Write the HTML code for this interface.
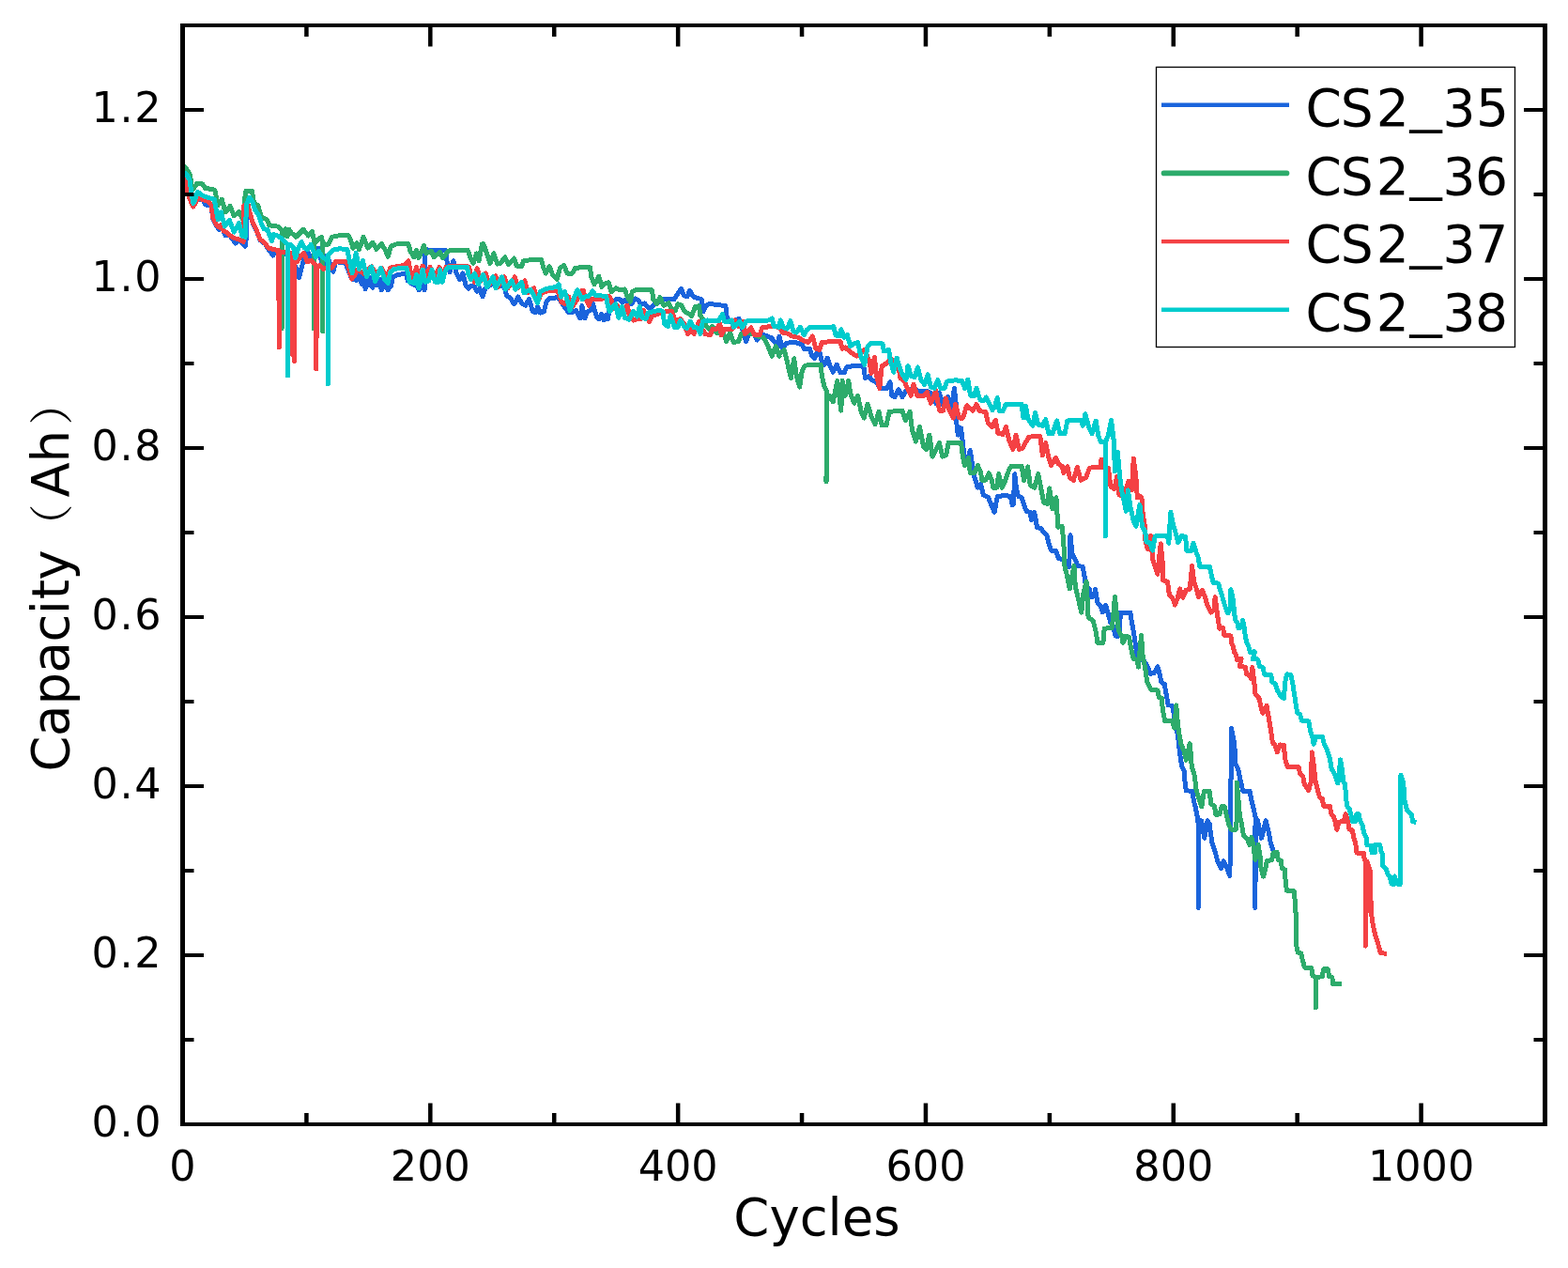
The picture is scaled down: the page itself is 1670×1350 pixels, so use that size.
<!DOCTYPE html>
<html lang="en"><head><meta charset="utf-8"><title>Capacity vs Cycles</title>
<style>
html,body{margin:0;padding:0;background:#fff;}
body{width:1670px;height:1350px;overflow:hidden;}
svg{display:block;}
text{font-family:"DejaVu Sans","Liberation Sans","Noto Serif CJK SC","Noto Sans CJK SC",sans-serif;fill:#000;}
.tk{font-size:44.5px;}
.tky{font-size:44.5px;letter-spacing:1.7px;}
.ttl{font-size:54.5px;}
.lg{font-size:55px;}
.par{font-size:47px;}
</style></head><body>
<svg width="1670" height="1350" viewBox="0 0 1670 1350">
<rect x="0" y="0" width="1670" height="1350" fill="#ffffff"/>
<g id="curves" shape-rendering="crispEdges">
<polyline points="194.6,188.3 196.9,189.0 199.2,202.2 202.5,212.7 205.8,220.0 208.5,215.4 210.4,211.4 216.4,213.4 219.0,218.0 224.9,218.7 226.9,233.2 230.9,241.1 233.5,244.4 235.5,239.8 240.1,251.0 242.7,249.6 245.4,251.6 250.6,258.9 254.6,255.6 261.2,262.2 262.0,257.5 262.5,220.0 264.1,217.3 265.8,226.6 269.1,237.1 273.0,245.0 277.0,255.6 282.3,259.5 285.6,264.8 290.8,272.0 294.1,266.8 302.0,269.4 308.6,273.4 315.2,285.2 318.5,295.8 321.8,282.6 327.1,265.5 331.0,276.0 339.0,264.1 344.2,286.5 348.2,272.0 354.8,289.2 357.4,278.6 368.0,280.0 374.6,297.1 379.8,298.4 383.8,291.8 385.1,302.4 387.1,293.1 389.1,307.6 391.0,295.8 393.0,303.7 395.0,295.8 397.0,306.3 398.9,297.1 400.9,303.7 403.6,297.1 406.2,309.0 408.2,298.4 410.0,305.0 413.2,308.8 416.5,304.1 418.5,294.9 422.4,292.9 432.3,291.0 434.3,298.9 439.5,302.8 443.5,304.1 446.1,308.8 450.1,300.2 452.1,308.8 452.7,265.9 475.1,266.6 476.5,284.4 479.1,289.6 483.0,277.8 485.7,289.6 489.6,297.5 492.9,291.0 496.2,304.1 498.9,307.4 501.5,304.1 505.5,305.5 508.1,310.1 510.7,306.8 514.0,316.0 516.7,306.8 525.2,302.2 537.1,305.5 539.7,314.7 543.7,317.3 547.6,323.9 551.6,316.0 555.5,322.6 559.5,325.2 563.5,318.6 567.4,331.8 570.7,332.5 572.7,326.5 575.3,333.1 579.3,331.8 581.9,321.3 584.6,318.0 593.8,316.7 597.7,321.3 601.9,328.0 605.3,332.2 610.3,332.2 613.6,330.5 617.8,338.9 619.9,325.5 622.9,338.9 625.4,332.2 628.7,330.5 631.7,323.8 633.8,332.2 635.4,337.2 638.0,339.7 640.5,334.7 643.0,340.6 645.5,335.6 647.2,339.7 648.9,332.2 655.6,318.8 660.6,318.8 662.7,322.1 665.6,319.6 669.0,323.0 672.3,323.8 676.5,318.0 679.9,319.6 682.4,323.8 686.6,323.0 690.8,328.0 694.1,327.2 697.5,323.8 702.3,321.2 707.5,318.5 718.1,318.5 720.7,314.6 725.3,307.3 728.6,314.6 731.9,315.9 734.6,309.3 738.5,315.9 741.8,317.2 747.1,318.5 749.1,331.7 752.4,325.1 755.0,323.8 762.9,324.1 772.8,325.8 774.1,337.0 777.4,342.3 787.3,339.6 790.6,350.2 794.6,363.4 799.8,350.2 806.4,362.0 810.4,355.5 820.9,359.4 830.0,368.6 829.9,358.0 833.2,371.2 837.1,365.9 842.4,364.3 847.7,364.6 854.3,367.2 856.9,371.8 862.2,371.2 864.8,379.1 867.5,381.7 870.1,375.8 873.4,376.5 875.4,385.7 878.0,388.3 881.3,381.1 884.6,391.0 887.2,396.2 891.2,388.3 895.1,396.9 899.1,396.9 901.7,391.0 907.0,389.9 917.5,389.9 920.2,392.3 921.5,402.8 925.5,400.2 928.1,404.1 933.4,406.8 937.3,413.4 943.9,414.0 947.9,406.8 949.8,421.3 953.1,422.6 957.1,414.7 961.0,422.6 965.0,416.0 969.0,414.7 978.2,416.0 986.1,416.0 991.4,418.6 996.6,429.2 1000.6,418.6 1004.6,431.8 1009.8,422.6 1013.8,433.1 1016.4,413.4 1018.4,431.8 1018.2,444.0 1020.2,463.1 1023.5,455.8 1024.8,466.4 1026.8,483.5 1030.1,492.7 1033.3,479.5 1035.3,492.7 1037.3,505.9 1041.3,519.1 1044.6,515.1 1047.2,527.0 1052.5,529.6 1055.1,536.2 1059.1,545.5 1062.3,528.3 1070.9,527.7 1076.2,528.3 1078.2,537.5 1079.4,536.3 1080.8,504.7 1082.7,521.8 1084.7,528.4 1088.0,529.7 1090.6,537.6 1093.3,544.2 1097.2,545.5 1098.5,553.5 1101.8,545.5 1104.5,561.4 1108.4,562.7 1114.9,570.3 1116.9,578.2 1119.5,586.1 1124.8,586.8 1127.5,594.7 1132.1,595.4 1135.4,603.3 1138.7,603.3 1140.0,569.7 1142.0,590.1 1145.9,596.7 1147.2,602.6 1153.2,603.3 1155.1,613.8 1156.5,624.4 1160.4,627.0 1161.7,635.6 1165.0,634.9 1166.6,627.7 1169.0,641.5 1172.3,645.5 1174.3,652.0 1177.5,644.1 1180.2,653.4 1182.8,662.6 1185.5,666.5 1188.1,677.1 1192.0,677.1 1193.4,652.0 1203.9,652.0 1205.2,661.3 1207.2,671.8 1209.2,685.0 1211.2,698.2 1213.1,702.1 1218.4,703.5 1222.4,710.1 1225.0,717.3 1229.0,716.6 1232.9,710.1 1233.0,709.9 1235.6,719.8 1236.9,726.4 1240.2,728.3 1242.2,739.5 1244.2,750.8 1248.8,751.4 1250.1,759.3 1252.7,773.8 1254.7,784.4 1256.7,802.8 1258.7,816.0 1261.3,821.3 1262.0,831.8 1263.3,841.7 1269.9,842.4 1271.2,851.6 1273.2,859.5 1275.1,868.7 1276.0,876.0 1276.3,966.5 1276.8,873.0 1279.5,873.8 1282.8,892.3 1286.1,873.8 1288.1,877.1 1290.8,896.9 1294.0,906.1 1296.7,916.7 1300.6,924.6 1303.3,916.7 1305.9,922.0 1309.9,932.5 1311.6,775.5 1314.7,792.3 1316.0,813.4 1318.6,818.6 1321.3,831.8 1323.9,842.4 1331.2,842.4 1332.5,850.3 1334.5,858.2 1337.1,870.1 1338.4,876.0 1336.7,880.0 1336.9,966.5 1337.3,876.0 1339.5,873.8 1343.5,892.3 1348.1,873.8 1351.4,886.4 1353.4,898.2 1356.0,905.5" fill="none" stroke="#1a64dc" stroke-width="5.0" stroke-linejoin="round" stroke-linecap="butt"/>
<polyline points="194.6,176.5 196.9,177.8 199.9,181.8 202.5,186.4 204.2,198.2 205.6,201.9 207.8,198.2 209.8,195.3 215.7,195.9 218.3,200.2 228.2,202.2 229.5,204.8 231.9,218.7 236.1,212.1 240.1,225.9 245.1,219.3 249.3,229.9 254.6,225.3 258.5,233.8 260.5,212.7 261.8,203.5 268.4,203.5 270.4,215.4 275.0,219.3 278.3,231.2 284.3,233.8 286.9,239.8 295.5,241.1 298.1,243.0 300.3,246.0 300.3,349.5 300.6,246.0 302.0,251.0 304.0,243.7 306.0,251.6 308.0,244.4 310.0,247.7 315.2,252.3 323.1,244.4 328.4,251.0 332.4,246.3 335.0,257.5 334.2,258.0 334.2,350.0 334.5,258.0 336.3,257.5 342.3,252.3 343.7,258.0 343.7,353.0 344.0,258.0 345.5,260.2 349.5,260.2 353.5,252.3 360.1,251.0 370.6,250.3 373.2,254.9 375.9,264.1 379.8,258.9 382.5,265.5 387.1,252.3 391.7,264.1 397.0,258.2 400.9,265.5 406.2,259.5 410.0,265.5 413.2,273.2 416.5,262.0 423.1,259.6 434.9,259.6 436.9,267.2 440.9,273.8 443.5,266.6 446.1,274.5 451.4,261.7 454.0,269.9 459.3,267.2 462.0,273.8 468.5,268.5 471.8,274.5 477.8,267.2 480.4,266.6 498.2,266.6 500.8,273.8 504.1,280.4 507.4,269.9 510.1,277.8 513.4,260.0 514.7,259.3 517.3,265.9 521.9,280.4 525.9,269.9 529.8,281.1 533.1,280.4 537.8,273.8 541.7,281.7 547.6,275.1 550.3,283.0 555.5,283.7 557.5,277.8 566.1,276.5 576.6,276.5 578.6,284.4 581.3,291.0 585.2,283.7 588.5,292.3 593.1,297.5 596.4,285.7 600.4,282.4 604.3,291.0 609.6,291.0 612.2,285.7 620.0,284.4 623.2,284.0 628.5,284.9 629.8,294.8 633.1,302.7 637.7,294.2 641.0,305.4 644.3,302.1 648.2,300.8 650.9,310.6 656.1,306.7 660.1,308.7 665.4,308.0 668.0,315.9 671.3,321.2 673.3,310.6 677.2,308.7 694.4,308.7 695.7,318.5 699.6,323.8 702.9,316.6 706.9,325.1 712.2,322.5 715.5,329.1 719.4,330.4 722.0,323.8 726.0,325.1 728.6,331.1 733.9,334.4 736.5,336.3 740.5,326.5 744.5,325.8 745.8,335.7 748.4,339.6 751.7,346.2 755.0,350.2 759.0,347.5 762.9,354.1 770.8,355.5 773.5,363.4 777.4,354.1 781.4,364.7 786.6,363.4 789.3,355.5 797.2,354.1 807.7,358.1 813.0,359.4 817.0,366.0 819.6,372.6 822.2,379.2 826.2,368.6 830.0,379.2 829.2,377.8 835.2,372.5 838.5,385.7 842.4,402.8 845.7,381.7 848.3,400.2 851.6,412.0 854.3,394.9 856.9,389.6 862.2,388.1 874.0,388.1 875.4,400.2 878.0,412.0 880.0,415.0 880.0,513.0 880.4,420.0 883.3,421.3 887.2,427.9 891.8,405.5 895.8,437.1 897.1,405.5 900.4,421.3 903.7,405.5 905.7,418.6 909.6,429.2 913.6,421.3 917.5,439.7 920.2,445.0 924.1,430.5 928.1,443.7 932.0,451.6 936.0,438.4 939.3,452.9 943.9,452.9 947.2,438.4 961.0,437.1 964.3,447.6 969.0,438.4 971.6,458.2 975.5,470.1 979.5,454.2 983.5,475.3 986.5,478.2 989.8,463.1 993.1,486.1 997.1,478.2 1000.4,471.6 1003.7,486.1 1007.6,484.8 1010.3,471.0 1023.5,471.0 1025.4,486.1 1027.4,495.4 1031.4,487.5 1033.3,503.3 1038.0,503.3 1041.3,495.4 1044.6,503.3 1045.9,511.2 1049.8,511.2 1053.1,503.9 1056.4,511.2 1057.7,519.1 1061.7,519.1 1063.7,504.6 1067.0,519.1 1070.9,511.2 1074.9,499.3 1077.5,496.0 1080.0,496.0 1088.0,496.1 1090.6,511.3 1094.6,496.8 1097.2,516.5 1101.8,519.2 1105.8,504.7 1109.1,521.8 1111.7,535.0 1115.7,536.3 1117.7,519.8 1121.0,541.6 1124.9,529.7 1126.9,561.4 1130.8,560.1 1131.4,561.1 1133.4,587.5 1134.0,603.3 1136.7,613.8 1139.3,627.0 1143.9,602.6 1145.3,624.4 1147.2,632.3 1149.9,644.1 1151.8,652.0 1153.8,632.3 1157.1,619.1 1158.4,642.8 1159.1,657.3 1164.4,661.3 1167.0,671.8 1169.0,684.3 1174.9,684.3 1176.2,669.2 1184.1,668.5 1185.5,658.6 1187.4,635.6 1189.4,654.7 1191.4,671.8 1194.7,677.1 1196.0,684.3 1199.3,677.1 1202.6,678.4 1204.6,690.3 1207.2,701.5 1210.5,702.1 1212.5,710.1 1215.5,676.4 1217.1,698.2 1219.7,711.4 1221.8,726.4 1226.4,734.9 1233.0,734.9 1234.3,742.2 1237.6,743.5 1238.2,755.4 1240.9,767.9 1248.8,767.9 1250.8,775.1 1252.7,750.8 1254.0,765.9 1255.4,779.1 1258.0,792.3 1261.3,800.2 1263.3,809.4 1267.2,791.6 1268.5,805.5 1269.2,816.0 1272.5,826.5 1273.8,839.7 1276.5,849.0 1279.8,858.8 1282.4,842.4 1288.3,842.4 1289.6,855.5 1293.6,858.8 1294.9,867.4 1298.9,866.8 1301.5,858.2 1304.1,858.8 1306.8,870.1 1308.5,877.1 1311.2,883.1 1316.5,883.1 1317.5,867.9 1317.3,833.1 1320.4,867.9 1322.4,877.1 1324.4,889.0 1328.3,893.0 1331.0,899.5 1332.9,891.6 1334.9,899.5 1336.9,915.4 1340.2,899.5 1342.2,912.7 1342.8,923.3 1345.5,933.2 1348.1,923.3 1349.4,916.7 1354.7,915.4 1356.0,908.1 1360.0,907.5 1361.3,915.4 1364.6,916.7 1365.2,924.6 1368.5,925.9 1369.2,939.1 1370.5,948.3 1378.4,949.0 1379.7,965.5 1380.4,978.6 1380.4,1005.0 1382.4,1014.2 1385.7,1014.9 1387.6,1023.5 1389.6,1030.1 1396.9,1030.7 1397.8,1038.4 1400.4,1040.4 1401.2,1042.0 1401.4,1073.0 1401.8,1042.0 1403.7,1040.4 1408.3,1039.7 1409.7,1031.8 1414.3,1031.8 1415.6,1039.7 1418.9,1040.4 1419.5,1047.6 1428.8,1047.9" fill="none" stroke="#2dab6b" stroke-width="5.0" stroke-linejoin="round" stroke-linecap="butt"/>
<polyline points="194.6,188.3 196.9,189.0 199.2,202.2 202.5,212.7 205.8,220.0 208.5,215.4 210.4,210.8 216.4,212.7 221.0,214.0 224.9,218.0 226.9,232.5 230.9,240.4 234.2,242.4 235.5,239.1 238.1,245.7 242.7,248.3 245.4,251.0 249.3,253.6 254.6,254.9 259.2,257.5 259.6,219.3 263.8,216.7 265.8,225.9 269.1,236.5 273.0,244.4 277.0,254.9 282.3,258.9 285.6,264.1 294.1,266.1 296.8,266.8 296.6,268.0 296.6,318.0 297.5,318.0 297.5,370.0 298.0,268.0 311.8,270.0 311.8,378.0 313.2,275.0 313.2,384.5 313.6,280.0 316.5,278.6 320.5,272.0 323.8,269.4 327.1,278.6 331.7,277.3 335.0,281.3 336.2,282.0 336.2,365.0 336.9,365.0 336.9,393.0 337.3,284.0 340.3,282.6 344.2,286.5 348.2,285.2 353.5,285.2 357.4,278.6 368.0,278.0 370.6,282.6 374.6,297.1 378.5,291.8 381.1,286.5 387.7,291.8 395.6,283.9 400.9,291.8 406.2,285.2 410.0,291.8 413.2,292.3 415.8,285.0 430.3,282.4 434.9,277.8 437.6,291.0 439.5,298.9 443.5,284.4 446.1,296.2 450.1,283.0 452.7,294.9 458.0,284.4 462.0,296.2 467.9,284.4 471.2,292.3 475.1,284.4 481.7,283.0 494.9,283.0 499.5,284.4 501.5,292.3 505.5,300.2 508.1,285.7 512.0,298.9 517.3,291.0 521.3,302.8 527.9,293.6 530.5,305.5 537.1,294.9 541.0,306.8 548.3,294.9 551.6,306.8 558.8,298.9 562.1,312.0 568.7,306.8 571.4,316.0 574.0,318.6 576.6,312.0 581.9,310.1 593.8,308.8 597.7,321.3 601.7,323.9 605.6,316.0 609.6,326.5 614.9,318.6 620.0,309.4 621.2,309.3 623.2,315.9 627.1,325.1 629.8,318.5 644.3,317.9 648.2,315.3 650.9,318.5 652.2,329.1 656.1,323.8 660.1,327.8 662.7,334.4 668.0,325.1 670.6,337.0 674.6,341.0 678.5,339.6 682.5,339.6 685.8,330.4 687.8,337.0 691.7,342.3 694.4,336.3 702.3,333.7 708.9,331.7 715.5,331.7 719.4,342.3 724.7,339.6 728.6,344.9 732.6,355.5 735.9,350.2 739.2,355.5 741.8,350.2 744.5,342.3 747.1,348.9 751.0,355.5 756.3,356.8 759.0,350.2 762.9,350.2 766.9,344.9 768.2,356.8 772.1,350.2 780.1,350.2 782.7,341.0 786.6,347.5 791.3,342.3 793.2,355.5 799.8,348.9 803.8,356.8 809.1,356.8 811.7,348.9 820.9,347.5 830.0,348.2 830.5,348.8 833.2,354.0 839.8,355.4 843.7,358.0 850.3,359.3 854.3,362.0 860.9,364.6 865.5,358.0 868.8,371.2 872.7,372.5 875.4,364.6 885.9,363.5 895.1,363.9 897.1,371.2 900.4,369.9 904.4,373.8 912.3,379.1 917.5,375.1 920.8,372.5 923.5,379.1 926.1,384.4 928.1,397.5 931.4,380.4 933.4,398.9 936.7,413.4 939.3,389.6 943.9,387.0 946.5,384.4 950.5,383.0 953.1,389.6 957.1,392.3 959.1,402.8 963.0,405.5 966.3,413.4 970.3,421.3 972.9,409.4 976.9,421.3 983.5,421.3 987.4,417.3 991.4,429.2 996.6,416.0 1000.6,437.1 1004.6,437.1 1007.2,423.9 1011.1,437.1 1015.1,445.0 1017.7,430.5 1021.7,445.0 1025.6,445.0 1029.6,431.8 1036.2,437.1 1040.0,430.5 1043.2,437.5 1049.8,438.8 1052.4,450.6 1056.4,454.6 1060.3,447.3 1063.0,461.2 1068.2,462.5 1071.5,454.6 1074.8,469.1 1078.8,478.3 1082.1,463.2 1085.4,478.3 1089.3,477.0 1092.0,471.7 1095.9,465.1 1107.8,464.5 1110.4,484.9 1113.7,471.7 1117.0,487.5 1119.6,495.5 1124.3,487.5 1127.5,494.1 1131.5,496.8 1132.8,503.4 1136.8,496.8 1139.4,508.6 1143.4,511.3 1147.3,497.4 1151.3,511.3 1156.5,508.6 1160.5,498.1 1172.4,497.4 1173.0,488.9 1175.0,498.1 1180.3,498.1 1182.9,517.9 1186.9,520.5 1189.5,507.3 1192.1,527.1 1196.1,527.1 1200.1,517.9 1202.0,512.6 1205.3,521.8 1207.3,488.2 1209.9,508.6 1211.3,529.7 1214.6,528.4 1215.9,529.7 1217.2,548.2 1219.2,558.7 1219.7,574.3 1222.4,584.8 1225.7,570.3 1227.6,595.4 1230.3,603.3 1232.9,611.2 1236.2,578.9 1238.2,599.3 1238.8,617.8 1243.5,619.1 1245.4,633.6 1248.7,636.2 1251.4,644.1 1254.0,637.5 1256.6,627.0 1259.9,636.2 1263.2,628.3 1267.2,627.0 1269.6,602.6 1271.8,620.4 1274.4,627.0 1276.4,635.6 1280.4,628.3 1283.7,636.2 1285.6,644.1 1289.6,652.0 1292.9,649.4 1294.2,635.6 1296.8,656.0 1298.8,669.2 1302.7,668.7 1303.7,676.4 1310.9,676.9 1311.4,684.1 1313.4,688.1 1314.5,694.3 1316.5,697.3 1317.5,702.5 1322.1,701.4 1320.1,709.6 1326.2,710.1 1327.8,717.8 1331.3,718.8 1332.4,722.9 1333.8,710.5 1335.8,726.4 1337.1,739.5 1341.0,743.5 1343.7,755.4 1345.0,759.3 1349.0,751.4 1350.9,762.0 1352.9,773.8 1355.5,791.0 1358.2,793.6 1360.2,800.8 1363.5,792.9 1367.4,793.6 1368.7,808.1 1371.4,816.7 1383.2,816.7 1384.6,823.9 1387.8,826.5 1389.2,834.5 1393.8,841.7 1396.4,831.8 1397.3,800.8 1399.7,818.6 1401.0,831.8 1403.7,842.4 1405.6,849.0 1408.3,850.3 1409.6,858.2 1416.2,858.2 1418.2,867.4 1420.0,868.7 1421.9,874.5 1423.9,883.1 1425.9,875.2 1431.1,874.5 1433.1,866.6 1435.8,875.8 1437.1,883.1 1440.4,883.7 1441.7,891.6 1443.7,896.9 1445.0,908.1 1452.2,908.1 1453.3,915.4 1454.0,916.0 1454.4,1007.2 1456.0,917.0 1459.1,926.4 1459.8,952.7 1460.4,971.2 1461.7,981.7 1463.7,991.0 1465.7,998.9 1468.3,1006.8 1470.3,1014.7 1476.9,1015.3" fill="none" stroke="#f44144" stroke-width="5.0" stroke-linejoin="round" stroke-linecap="butt"/>
<polyline points="194.6,183.7 196.9,184.4 199.2,186.4 201.9,191.6 203.8,204.8 205.8,216.7 207.8,212.7 210.4,204.2 213.1,206.1 216.4,208.8 223.0,210.8 228.2,212.1 229.5,219.3 232.2,233.8 235.5,225.9 239.4,241.1 244.3,234.5 249.3,247.0 254.6,237.8 257.9,251.0 261.2,252.3 262.5,218.0 265.8,210.1 269.1,215.4 271.7,223.3 275.7,229.9 278.3,237.8 281.0,243.7 284.9,244.4 289.5,256.9 291.5,249.6 295.5,251.0 299.4,253.6 303.4,257.5 306.0,260.2 306.6,260.0 306.6,400.0 306.9,260.0 309.3,260.2 312.6,264.1 314.6,274.7 317.2,265.5 321.2,257.5 324.5,264.1 327.8,265.5 331.0,260.2 334.3,268.1 336.3,273.4 339.6,267.4 342.9,273.4 346.9,276.0 349.1,277.0 349.1,409.0 349.4,272.0 351.5,269.4 354.8,266.1 361.4,264.8 369.9,265.5 371.9,276.0 375.2,290.5 379.2,269.4 382.5,286.5 386.4,277.3 390.4,294.5 395.6,283.9 399.6,299.7 405.5,285.2 410.0,298.4 413.2,301.5 415.8,289.6 419.8,286.3 433.0,285.0 434.9,292.3 436.3,300.2 440.9,301.5 443.5,292.3 446.1,306.8 450.1,287.0 452.7,300.2 456.7,298.9 460.0,287.0 463.3,300.2 467.2,300.2 468.5,287.0 471.2,300.2 473.8,289.6 476.5,285.0 484.4,284.4 497.5,284.4 498.9,292.3 501.5,297.5 505.5,291.0 509.4,302.8 514.7,292.3 518.6,305.5 525.2,294.9 527.9,306.8 534.5,294.9 538.4,308.1 545.0,298.9 549.0,308.1 555.5,300.2 558.2,312.0 564.8,308.1 568.7,314.7 572.7,322.6 575.3,310.7 581.9,307.4 592.5,305.5 595.1,302.8 597.7,316.0 601.7,310.7 607.0,330.5 610.9,318.6 614.9,308.8 620.0,318.6 623.2,315.9 627.1,315.3 631.1,310.0 634.4,314.6 645.6,315.3 647.6,326.5 649.5,331.7 653.5,325.1 655.5,323.8 658.8,338.3 662.7,326.5 665.4,338.3 670.0,340.3 674.6,331.7 678.5,337.0 681.2,326.5 683.8,338.3 687.8,339.6 690.4,333.0 695.7,331.7 702.3,330.4 706.2,331.7 707.5,344.9 711.5,347.5 714.1,335.7 718.1,348.2 722.0,348.2 724.7,341.0 728.6,347.5 731.3,349.5 735.2,342.3 739.2,348.9 743.1,348.9 745.8,355.5 748.4,342.3 753.7,341.0 765.5,341.6 769.5,334.4 771.5,342.3 776.1,342.3 779.4,341.0 781.4,348.2 788.0,342.3 790.6,348.9 794.6,342.3 799.8,341.0 818.3,341.0 822.2,339.0 824.2,347.5 830.0,348.2 831.2,340.9 834.5,348.8 838.5,350.1 841.8,341.5 845.0,352.7 848.3,354.0 852.3,348.1 856.3,356.7 858.9,351.4 862.2,348.8 872.7,348.5 884.6,348.8 887.9,347.5 889.9,356.7 893.8,358.0 895.8,350.8 899.1,359.3 902.4,356.7 905.7,368.5 909.6,365.9 913.6,364.6 915.6,373.8 917.5,381.7 920.8,388.3 924.1,368.5 926.8,365.9 940.0,365.9 941.3,373.8 946.5,372.5 948.5,384.4 951.8,396.2 955.1,381.1 957.8,389.6 961.0,398.9 965.0,404.1 967.0,389.6 970.3,400.2 974.2,401.5 977.5,391.0 980.8,404.1 984.8,409.4 988.1,398.9 991.4,412.0 995.3,413.4 998.6,404.8 1001.9,413.4 1005.9,413.4 1008.5,406.1 1017.7,404.8 1024.3,405.5 1027.6,413.4 1030.9,404.1 1033.6,421.3 1037.5,421.9 1040.0,413.4 1043.8,425.6 1047.1,426.9 1050.4,423.0 1053.7,429.5 1057.0,436.8 1059.7,432.2 1062.3,423.6 1064.3,437.5 1068.2,437.5 1070.9,430.9 1074.8,430.2 1088.0,430.2 1090.0,444.7 1092.6,432.2 1094.6,445.4 1099.9,453.3 1102.5,439.4 1105.8,452.0 1110.4,453.3 1113.7,446.7 1117.0,461.8 1121.0,461.8 1125.6,448.0 1128.9,461.8 1134.1,461.8 1136.8,448.0 1140.7,447.3 1151.3,447.3 1153.3,453.3 1155.9,440.8 1159.2,453.3 1163.1,461.8 1167.1,448.0 1169.7,463.8 1172.4,470.4 1175.7,470.4 1177.3,470.0 1177.3,571.0 1177.7,470.0 1180.3,463.8 1183.6,447.3 1186.2,469.1 1187.5,502.0 1190.2,481.0 1192.8,508.6 1194.8,523.1 1197.4,535.0 1199.4,544.2 1201.4,521.8 1204.0,540.3 1207.3,554.8 1209.9,560.1 1213.9,537.6 1216.5,560.1 1219.8,566.6 1221.0,576.9 1225.0,578.2 1227.6,586.1 1230.3,571.0 1238.2,570.3 1243.5,571.0 1244.8,578.2 1246.8,545.3 1250.1,561.1 1252.7,569.0 1254.7,577.6 1258.6,570.3 1262.6,571.6 1263.9,586.1 1268.5,586.8 1271.1,578.2 1273.8,587.5 1276.4,594.0 1277.7,603.3 1288.3,603.3 1290.3,612.5 1292.2,620.4 1297.5,621.1 1300.0,629.6 1301.7,635.0 1303.7,642.1 1305.8,648.3 1307.8,652.9 1309.9,649.3 1310.9,627.8 1312.9,636.0 1314.5,651.3 1315.5,659.5 1318.0,663.6 1319.1,668.7 1322.1,667.7 1323.7,660.5 1325.2,667.7 1326.2,676.9 1327.8,684.1 1329.8,688.1 1331.3,694.3 1336.4,693.8 1334.4,701.9 1339.5,701.9 1341.6,709.6 1345.1,710.6 1346.7,718.3 1353.8,718.6 1354.9,726.4 1358.2,727.7 1360.8,735.6 1364.8,742.2 1367.4,743.5 1368.7,726.4 1370.7,717.8 1374.7,718.5 1376.6,726.4 1378.6,739.5 1380.6,752.7 1381.9,759.3 1384.6,760.6 1386.5,767.2 1393.8,767.9 1395.8,779.1 1397.7,784.4 1399.1,792.3 1401.7,784.4 1408.3,784.4 1410.3,792.3 1412.9,797.5 1416.2,806.8 1418.2,818.6 1420.0,821.3 1422.2,825.9 1424.8,833.8 1426.1,825.9 1427.5,808.8 1429.4,819.3 1430.8,832.5 1432.7,835.1 1433.4,848.3 1434.7,858.2 1437.3,861.5 1438.7,866.8 1440.6,874.7 1443.3,874.7 1444.6,866.8 1447.2,866.8 1448.5,873.4 1451.2,878.6 1452.5,886.5 1455.1,891.8 1455.8,899.7 1460.4,900.4 1461.1,907.6 1464.4,907.6 1464.4,899.7 1469.6,899.7 1471.0,906.3 1472.9,910.3 1472.9,922.1 1476.2,924.8 1478.2,931.4 1480.2,933.3 1482.2,940.9 1484.1,941.5 1485.5,933.0 1487.4,940.9 1491.1,941.5 1492.0,825.3 1494.7,833.8 1496.0,852.3 1498.6,862.8 1503.3,866.8 1504.6,874.7 1508.5,875.3" fill="none" stroke="#00cccd" stroke-width="5.0" stroke-linejoin="round" stroke-linecap="butt"/>
</g>
<g id="legend">
<rect x="1231.5" y="71.5" width="382" height="298" fill="#fff" stroke="#000" stroke-width="1.3"/>
<line x1="1237" y1="111.7" x2="1373" y2="111.7" stroke="#1a64dc" stroke-width="4.4"/>
<text class="lg" x="1390.6 1427.7 1465.8 1501.4 1536.5 1572.0" y="133.9 133.9 133.9 128.6 133.9 133.9">CS2<tspan textLength="34.2" lengthAdjust="spacingAndGlyphs">_</tspan>35</text>
<line x1="1239.5" y1="184.4" x2="1370.5" y2="184.4" stroke="#2dab6b" stroke-width="5.6" stroke-linecap="round"/>
<text class="lg" x="1390.6 1427.7 1465.8 1501.4 1536.5 1570.9" y="206.6 206.6 206.6 201.3 206.6 206.6">CS2<tspan textLength="34.2" lengthAdjust="spacingAndGlyphs">_</tspan>36</text>
<line x1="1237" y1="257.1" x2="1373" y2="257.1" stroke="#f44144" stroke-width="4.4"/>
<text class="lg" x="1390.6 1427.7 1465.8 1501.4 1536.5 1571.2" y="279.3 279.3 279.3 274.0 279.3 279.3">CS2<tspan textLength="34.2" lengthAdjust="spacingAndGlyphs">_</tspan>37</text>
<line x1="1237" y1="329.8" x2="1373" y2="329.8" stroke="#00cccd" stroke-width="4.4"/>
<text class="lg" x="1390.6 1427.7 1465.8 1501.4 1536.5 1571.0" y="352.0 352.0 352.0 346.7 352.0 352.0">CS2<tspan textLength="34.2" lengthAdjust="spacingAndGlyphs">_</tspan>38</text>
</g>
<g id="axes" fill="#000" stroke="none">
<path fill-rule="evenodd" d="M192,25H1648V1199H192Z M197,29V1195H1643V29Z"/>
<rect x="324.16" y="1185" width="4.5" height="11"/>
<rect x="324.16" y="28" width="4.5" height="11"/>
<rect x="456.07" y="1174.5" width="4.5" height="21.5"/>
<rect x="456.07" y="28" width="4.5" height="21.5"/>
<rect x="587.98" y="1185" width="4.5" height="11"/>
<rect x="587.98" y="28" width="4.5" height="11"/>
<rect x="719.89" y="1174.5" width="4.5" height="21.5"/>
<rect x="719.89" y="28" width="4.5" height="21.5"/>
<rect x="851.80" y="1185" width="4.5" height="11"/>
<rect x="851.80" y="28" width="4.5" height="11"/>
<rect x="983.70" y="1174.5" width="4.5" height="21.5"/>
<rect x="983.70" y="28" width="4.5" height="21.5"/>
<rect x="1115.61" y="1185" width="4.5" height="11"/>
<rect x="1115.61" y="28" width="4.5" height="11"/>
<rect x="1247.52" y="1174.5" width="4.5" height="21.5"/>
<rect x="1247.52" y="28" width="4.5" height="21.5"/>
<rect x="1379.43" y="1185" width="4.5" height="11"/>
<rect x="1379.43" y="28" width="4.5" height="11"/>
<rect x="1511.34" y="1174.5" width="4.5" height="21.5"/>
<rect x="1511.34" y="28" width="4.5" height="21.5"/>
<rect x="196" y="1105.00" width="10.5" height="4"/>
<rect x="1633.5" y="1105.00" width="10.5" height="4"/>
<rect x="196" y="1015.00" width="21.0" height="4"/>
<rect x="1623.0" y="1015.00" width="21.0" height="4"/>
<rect x="196" y="925.00" width="10.5" height="4"/>
<rect x="1633.5" y="925.00" width="10.5" height="4"/>
<rect x="196" y="835.00" width="21.0" height="4"/>
<rect x="1623.0" y="835.00" width="21.0" height="4"/>
<rect x="196" y="745.00" width="10.5" height="4"/>
<rect x="1633.5" y="745.00" width="10.5" height="4"/>
<rect x="196" y="655.00" width="21.0" height="4"/>
<rect x="1623.0" y="655.00" width="21.0" height="4"/>
<rect x="196" y="565.00" width="10.5" height="4"/>
<rect x="1633.5" y="565.00" width="10.5" height="4"/>
<rect x="196" y="475.00" width="21.0" height="4"/>
<rect x="1623.0" y="475.00" width="21.0" height="4"/>
<rect x="196" y="385.00" width="10.5" height="4"/>
<rect x="1633.5" y="385.00" width="10.5" height="4"/>
<rect x="196" y="295.00" width="21.0" height="4"/>
<rect x="1623.0" y="295.00" width="21.0" height="4"/>
<rect x="196" y="205.00" width="10.5" height="4"/>
<rect x="1633.5" y="205.00" width="10.5" height="4"/>
<rect x="196" y="115.00" width="21.0" height="4"/>
<rect x="1623.0" y="115.00" width="21.0" height="4"/>
</g>
<g id="ticklabels">
<text class="tk" text-anchor="middle" x="194.5" y="1256.5">0</text>
<text class="tk" text-anchor="middle" x="458.3" y="1256.5">200</text>
<text class="tk" text-anchor="middle" x="722.1" y="1256.5">400</text>
<text class="tk" text-anchor="middle" x="986.0" y="1256.5">600</text>
<text class="tk" text-anchor="middle" x="1249.8" y="1256.5">800</text>
<text class="tk" text-anchor="middle" x="1513.6" y="1256.5">1000</text>
<text class="tky" x="97.4" y="1210.2">0.0</text>
<text class="tky" x="97.4" y="1030.2">0.2</text>
<text class="tky" x="97.4" y="850.2">0.4</text>
<text class="tky" x="97.4" y="670.2">0.6</text>
<text class="tky" x="97.4" y="490.2">0.8</text>
<text class="tky" x="97.4" y="310.2">1.0</text>
<text class="tky" x="97.4" y="130.2">1.2</text>
</g>
<text class="ttl" text-anchor="middle" x="870" y="1314.5">Cycles</text>
<text class="ttl" transform="translate(73.3,0) rotate(-90)" x="-821.6 -784.0 -750.4 -716.6 -683.6 -654.2 -638.2 -617.6 -583.6 -529.6 -492.6 -452.5" y="0">Capacity<tspan class="par" dy="-1.5">（</tspan><tspan dy="1.5">Ah</tspan><tspan class="par" dy="-1.5">）</tspan></text>
</svg>
</body></html>
